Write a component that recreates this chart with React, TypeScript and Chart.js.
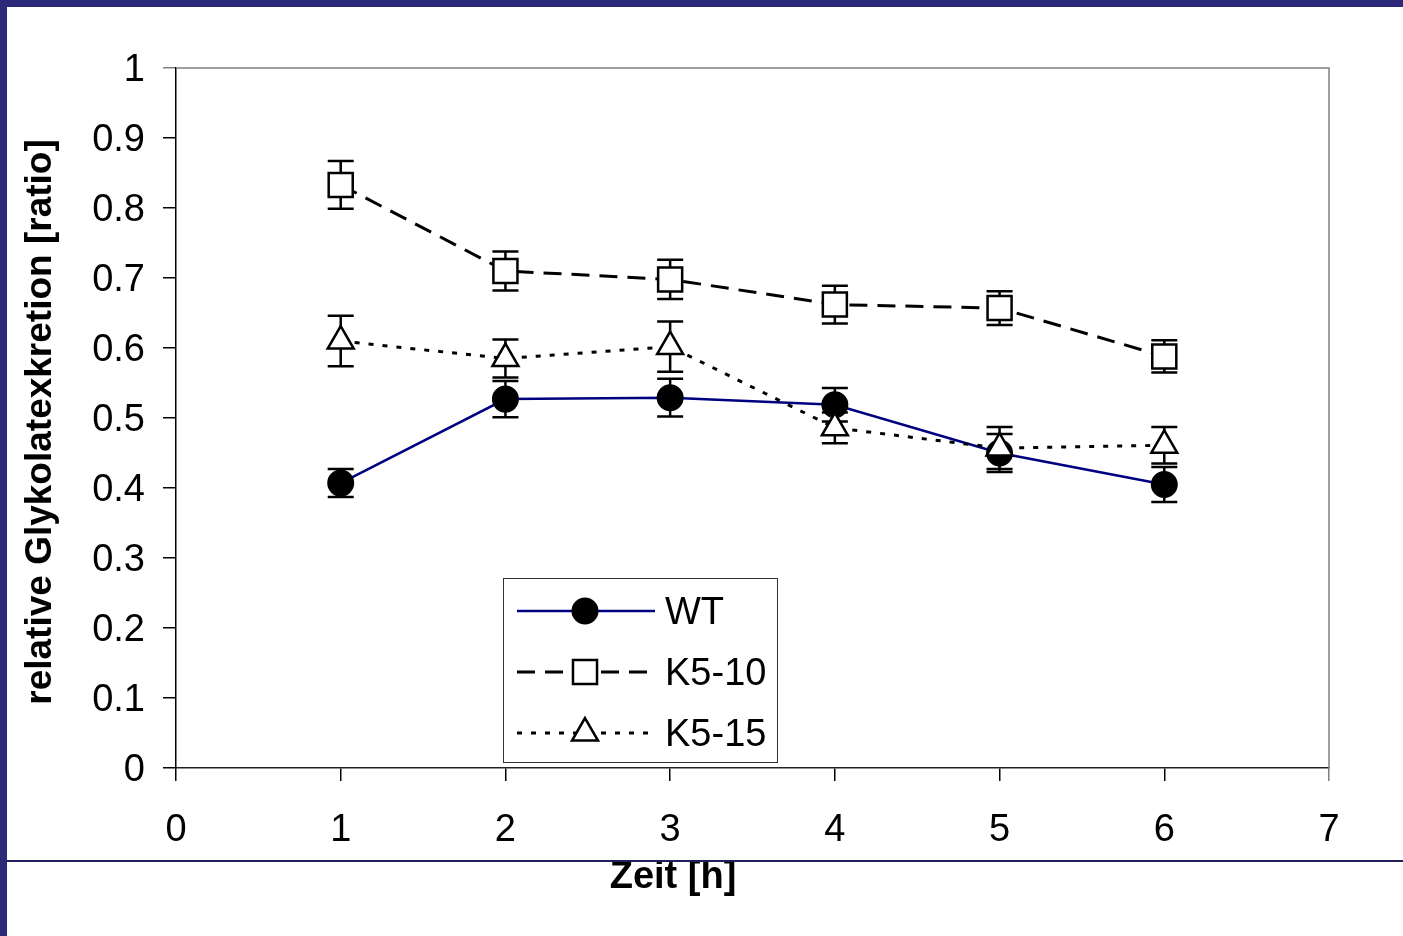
import React, { useEffect, useRef } from "react";
import { Chart, registerables } from "chart.js";

Chart.register(...registerables);

const hours = [1, 2, 3, 4, 5, 6];
const wtValues = [0.407, 0.527, 0.529, 0.519, 0.45, 0.405];
const wtErrors = [0.02, 0.026, 0.027, 0.024, 0.027, 0.025];
const k510Values = [0.833, 0.71, 0.698, 0.662, 0.657, 0.588];
const k510Errors = [0.034, 0.028, 0.028, 0.027, 0.024, 0.023];
const k515Values = [0.61, 0.585, 0.602, 0.486, 0.457, 0.461];
const k515Errors = [0.036, 0.027, 0.036, 0.022, 0.03, 0.026];
const seriesLabels = ["WT", "K5-10", "K5-15"];
const xTickLabels = ["0", "1", "2", "3", "4", "5", "6", "7"];
const yTickLabels = ["0", "0.1", "0.2", "0.3", "0.4", "0.5", "0.6", "0.7", "0.8", "0.9", "1"];
const xTitle = "Zeit [h]";
const yTitle = "relative Glykolatexkretion [ratio]";

const FONT = "'Liberation Sans', Arial, Helvetica, sans-serif";
const NAVY = "#2A2A78";

function drawMarker(ctx: CanvasRenderingContext2D, style: string, x: number, y: number, r: number, fill: string, stroke: string, bw: number) {
  ctx.save();
  ctx.setLineDash([]);
  ctx.beginPath();
  if (style === "circle") {
    ctx.arc(x, y, r, 0, Math.PI * 2);
  } else if (style === "rect") {
    const s = r * Math.SQRT1_2;
    ctx.rect(x - s, y - s, 2 * s, 2 * s);
  } else if (style === "triangle") {
    for (let i = 0; i < 3; i++) {
      const a = (i * 2 * Math.PI) / 3;
      const px = x + Math.sin(a) * r;
      const py = y - Math.cos(a) * r;
      if (i === 0) ctx.moveTo(px, py);
      else ctx.lineTo(px, py);
    }
    ctx.closePath();
  }
  ctx.fillStyle = fill;
  ctx.fill();
  ctx.lineWidth = bw;
  ctx.strokeStyle = stroke;
  ctx.stroke();
  ctx.restore();
}

const errorArrays = [wtErrors, k510Errors, k515Errors];

const errorBarPlugin = {
  id: "errorBars",
  beforeDatasetsDraw(chart: any) {
    const ctx = chart.ctx;
    const ys = chart.scales.y;
    ctx.save();
    ctx.strokeStyle = "#000";
    ctx.lineWidth = 2.5;
    ctx.setLineDash([]);
    chart.data.datasets.forEach((ds: any, di: number) => {
      const meta = chart.getDatasetMeta(di);
      const errs = errorArrays[di];
      meta.data.forEach((pt: any, i: number) => {
        const v = ds.data[i].y;
        const e = errs[i];
        const x = pt.x;
        const yt = ys.getPixelForValue(v + e);
        const yb = ys.getPixelForValue(v - e);
        ctx.beginPath();
        ctx.moveTo(x, yt);
        ctx.lineTo(x, yb);
        ctx.moveTo(x - 13, yt);
        ctx.lineTo(x + 13, yt);
        ctx.moveTo(x - 13, yb);
        ctx.lineTo(x + 13, yb);
        ctx.stroke();
      });
    });
    ctx.restore();
  },
};

const decorPlugin = {
  id: "decor",
  beforeDatasetsDraw(chart: any) {
    const { ctx, chartArea } = chart;
    ctx.save();
    ctx.strokeStyle = "#808080";
    ctx.lineWidth = 1.5;
    ctx.beginPath();
    ctx.moveTo(chartArea.left, chartArea.top);
    ctx.lineTo(chartArea.right, chartArea.top);
    ctx.lineTo(chartArea.right, chartArea.bottom);
    ctx.stroke();
    ctx.restore();
  },
  afterDraw(chart: any) {
    const { ctx, chartArea } = chart;
    ctx.save();
    // axis titles
    ctx.fillStyle = "#000";
    ctx.textAlign = "center";
    ctx.textBaseline = "middle";
    ctx.font = `bold 38px ${FONT}`;
    ctx.fillText(xTitle, chartArea.left + 497, chartArea.bottom + 110);
    ctx.font = `bold 37px ${FONT}`;
    ctx.save();
    ctx.translate(chartArea.left - 135, (chartArea.top + chartArea.bottom) / 2 + 4);
    ctx.rotate(-Math.PI / 2);
    ctx.fillText(yTitle, 0, 0);
    ctx.restore();

    // legend
    const bx = chartArea.left + 327;
    const by = chartArea.top + 510;
    const bw = 274;
    const bh = 184;
    ctx.fillStyle = "#fff";
    ctx.fillRect(bx, by, bw, bh);
    ctx.strokeStyle = "#333";
    ctx.lineWidth = 1;
    ctx.strokeRect(bx + 0.5, by + 0.5, bw, bh);
    const rows = [33, 94, 155];
    chart.data.datasets.forEach((ds: any, i: number) => {
      const y = by + rows[i];
      ctx.save();
      ctx.strokeStyle = ds.borderColor;
      ctx.lineWidth = ds.borderWidth;
      ctx.setLineDash(ds.borderDash || []);
      ctx.beginPath();
      ctx.moveTo(bx + 14, y);
      ctx.lineTo(bx + 152, y);
      ctx.stroke();
      ctx.restore();
      drawMarker(ctx, ds.pointStyle, bx + 82, y, ds.pointRadius, ds.pointBackgroundColor, ds.pointBorderColor, ds.pointBorderWidth);
      ctx.fillStyle = "#000";
      ctx.font = `38px ${FONT}`;
      ctx.textAlign = "left";
      ctx.textBaseline = "middle";
      ctx.fillText(ds.label, bx + 162, y + 3);
    });
    ctx.restore();
  },
};

export default function App() {
  const canvasRef = useRef<HTMLCanvasElement | null>(null);

  useEffect(() => {
    document.body.style.margin = "0";
    const canvas = canvasRef.current;
    if (!canvas) return;
    const toPts = (vals: number[]) => hours.map((h, i) => ({ x: h, y: vals[i] }));
    const chart = new Chart(canvas, {
      type: "line",
      data: {
        datasets: [
          {
            label: seriesLabels[0],
            data: toPts(wtValues),
            borderColor: "#000080",
            borderWidth: 2.5,
            borderDash: [],
            pointStyle: "circle",
            pointRadius: 12.5,
            pointBackgroundColor: "#000",
            pointBorderColor: "#000",
            pointBorderWidth: 2,
            order: 3,
          },
          {
            label: seriesLabels[1],
            data: toPts(k510Values),
            borderColor: "#000",
            borderWidth: 3,
            borderDash: [18, 10],
            pointStyle: "rect",
            pointRadius: 17,
            pointBackgroundColor: "#fff",
            pointBorderColor: "#000",
            pointBorderWidth: 2.5,
            order: 2,
          },
          {
            label: seriesLabels[2],
            data: toPts(k515Values),
            borderColor: "#000",
            borderWidth: 3,
            borderDash: [5, 9],
            pointStyle: "triangle",
            pointRadius: 15,
            pointBackgroundColor: "#fff",
            pointBorderColor: "#000",
            pointBorderWidth: 2.5,
            order: 1,
          },
        ] as any,
      },
      options: {
        animation: false,
        responsive: false,
        devicePixelRatio: 1,
        layout: { padding: { left: 0, top: 68, right: 74, bottom: 0 } },
        plugins: {
          legend: { display: false },
          tooltip: { enabled: false },
          title: { display: false },
        },
        elements: { line: { tension: 0 } },
        scales: {
          x: {
            type: "linear",
            min: 0,
            max: 7,
            afterFit: (scale: any) => {
              scale.height = 168;
            },
            afterBuildTicks: (scale: any) => {
              scale.ticks = xTickLabels.map((_, i) => ({ value: i }));
            },
            ticks: {
              color: "#000",
              font: { family: FONT, size: 38 },
              padding: 27,
              maxRotation: 0,
              autoSkip: false,
              callback: (v: any) => xTickLabels[Math.round(Number(v))],
            },
            grid: {
              drawOnChartArea: false,
              drawTicks: true,
              tickLength: 13,
              lineWidth: 1.5,
              color: (c: any) => (c.tick && c.tick.value === 7 ? "#808080" : "#000"),
            },
            border: { display: true, color: "#222", width: 1.5 },
          },
          y: {
            type: "linear",
            min: 0,
            max: 1,
            afterFit: (scale: any) => {
              scale.width = 176;
            },
            afterBuildTicks: (scale: any) => {
              scale.ticks = yTickLabels.map((_, i) => ({ value: i / 10 }));
            },
            ticks: {
              color: "#000",
              font: { family: FONT, size: 38 },
              padding: 18,
              labelOffset: 3,
              autoSkip: false,
              callback: (v: any) => yTickLabels[Math.round(Number(v) * 10)],
            },
            grid: {
              drawOnChartArea: false,
              drawTicks: true,
              tickLength: 13,
              lineWidth: 1.5,
              color: (c: any) => (c.tick && c.tick.value === 1 ? "#808080" : "#000"),
            },
            border: { display: true, color: "#000", width: 1.5 },
          },
        },
      } as any,
      plugins: [decorPlugin, errorBarPlugin],
    });
    return () => chart.destroy();
  }, []);

  return (
    <div style={{ position: "fixed", left: 0, top: 0, width: 1403, height: 936, background: "#fff", overflow: "hidden" }}>
      <canvas ref={canvasRef} width={1403} height={936} style={{ position: "absolute", left: 0, top: 0 }} />
      <div style={{ position: "absolute", left: 0, top: 0, width: 1403, height: 7, background: NAVY }} />
      <div style={{ position: "absolute", left: 0, top: 0, width: 7, height: 936, background: NAVY }} />
      <div style={{ position: "absolute", left: 7, top: 860, width: 1396, height: 1.5, background: "#1F1F5A" }} />
    </div>
  );
}
